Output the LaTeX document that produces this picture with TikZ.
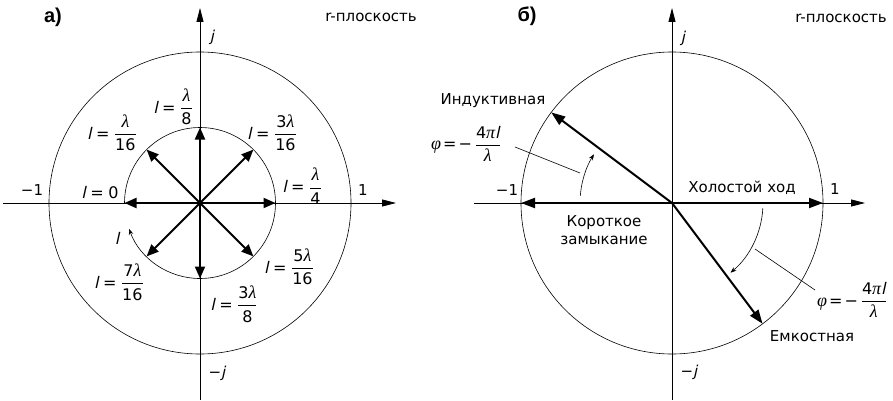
\documentclass[tikz,border=0pt]{standalone}
\usepackage{amsmath}
\usepackage{fontspec}
\usetikzlibrary{arrows.meta}
\setmainfont{DejaVu Sans}[ItalicFont={DejaVu Sans},ItalicFeatures={FakeSlant=0.22}]
\newfontfamily\labfont{Liberation Sans}
\newfontfamily\grk{Liberation Serif}
\newcommand{\Ll}{\mbox{\itshape l}}
\newcommand{\Nm}[1]{\mbox{#1}}
\newcommand{\G}[1]{\mbox{\fontsize{18}{18}\grk\itshape #1}}
\newcommand{\Eq}{\mbox{\hspace{4.5pt}=\hspace{4.5pt}}}
\newcommand{\Eqt}{\mbox{\hspace{2pt}=\hspace{2pt}}}
\begin{document}
\begin{tikzpicture}[x=1pt,y=1pt,
  every node/.style={inner sep=0pt,font=\fontsize{15}{18}\selectfont},
  axis/.style={line width=0.8pt,-{Triangle[length=14pt,width=7pt]}},
  plainaxis/.style={line width=0.8pt},
  circ/.style={line width=0.6pt},
  vec/.style={line width=2pt,-{Triangle[length=12pt,width=10pt]}},
  bigvec/.style={line width=2pt,-{Triangle[length=14pt,width=10pt]}},
  phiarc/.style={line width=0.6pt,-{Stealth[length=6pt,width=4.5pt]}},
  leader/.style={line width=0.6pt},
  mathlbl/.style={font=\fontsize{16}{18}\selectfont},
  panel/.style={font=\fontsize{20}{22}\selectfont\labfont\bfseries}]
\useasboundingbox (0,0) rectangle (893,400);
% ---------------- left panel ----------------
\coordinate (c1) at (200,197);
\coordinate (hl1) at (3,197);
\coordinate (hr1) at (396,197);
\coordinate (vb1) at (200,0);
\coordinate (vt1) at (200,392);
\draw[plainaxis] (c1) -- (hl1);
\draw[axis] (c1) -- (hr1);
\draw[plainaxis] (c1) -- (vb1);
\draw[axis] (c1) -- (vt1);
\draw[circ] (c1) circle[radius=151pt];
\draw[circ,-{Stealth[length=6pt,width=4.5pt]}] (c1) ++(180:75.5pt) arc[start angle=180,end angle=-160,radius=75.5pt];
\foreach \a/\n in {0/q0,45/q1,90/q2,135/q3,180/q4,225/q5,270/q6,315/q7}{
  \path (c1) ++(\a:75.5pt) coordinate (\n);
  \draw[vec] (c1) -- (\n);
}
\node[panel] (la) at (53,383) {a)};
\node (lr) at (371,383) {r-плоскость};
\node (lj) at (212,363) {\itshape j};
\node (lmj) at (217,27) {−\itshape j};
\node (lm1) at (32,210) {−1};
\node (lp1) at (363,210) {1};
\node[mathlbl] (l0) at (100,207) {$\Ll\Eq\Nm{0}$};
\node[mathlbl] (l1) at (112,267) {$\Ll\Eq\dfrac{\G{λ}}{\Nm{16}}$};
\node[mathlbl] (l2) at (173,293) {$\Ll\Eq\dfrac{\G{λ}}{\Nm{8}}$};
\node[mathlbl] (l3) at (272,267) {$\Ll\Eq\dfrac{\Nm{3}\G{λ}}{\Nm{16}}$};
\node[mathlbl] (l4) at (302,214) {$\Ll\Eq\dfrac{\G{λ}}{\Nm{4}}$};
\node[mathlbl] (l5) at (289,133) {$\Ll\Eq\dfrac{\Nm{5}\G{λ}}{\Nm{16}}$};
\node[mathlbl] (l6) at (234,96) {$\Ll\Eq\dfrac{\Nm{3}\G{λ}}{\Nm{8}}$};
\node[mathlbl] (l7) at (119,118) {$\Ll\Eq\dfrac{\Nm{7}\G{λ}}{\Nm{16}}$};
\node[mathlbl] (ll) at (117,162) {\itshape l};
% ---------------- right panel ----------------
\coordinate (c2) at (672,197);
\coordinate (hl2) at (474,197);
\coordinate (hr2) at (865,197);
\coordinate (vb2) at (672,0);
\coordinate (vt2) at (672,392);
\draw[plainaxis] (c2) -- (hl2);
\draw[axis] (c2) -- (hr2);
\draw[plainaxis] (c2) -- (vb2);
\draw[axis] (c2) -- (vt2);
\draw[circ] (c2) circle[radius=151pt];
\path (c2) ++(180:151pt) coordinate (sc);
\path (c2) ++(0:151pt) coordinate (oc);
\path (c2) ++(143.13:151pt) coordinate (ind);
\path (c2) ++(-53.13:151pt) coordinate (cap);
\draw[bigvec] (c2) -- (sc);
\draw[bigvec] (c2) -- (oc);
\draw[bigvec] (c2) -- (ind);
\draw[bigvec] (c2) -- (cap);
\draw[phiarc] (c2) ++(175.6:92pt) arc[start angle=175.6,end angle=148,radius=92pt];
\draw[phiarc] (c2) ++(-3.3:91pt) arc[start angle=-3.3,end angle=-50,radius=91pt];
\node[panel] (lb) at (527,384) {б)};
\node (rr) at (841,382) {r-плоскость};
\node (rj) at (683,362) {\itshape j};
\node (rmj) at (689,28) {−\itshape j};
\node (rm1) at (507,210) {−1};
\node (rp1) at (835,211) {1};
\node (tind) at (493,299) {Индуктивная};
\node (tcap) at (812,64) {Емкостная};
\node (topen) at (742,212) {Холостой ход};
\node[align=center] (tshort) at (604,170) {Короткое\\замыкание};
\node[mathlbl] (phi1) at (466,256) {$\G{φ}\Eqt\Nm{−}\,\dfrac{\Nm{4}\G{π}\Ll}{\G{λ}}$};
\node[mathlbl] (phi2) at (852,100) {$\G{φ}\Eqt\Nm{−}\,\dfrac{\Nm{4}\G{π}\Ll}{\G{λ}}$};
\coordinate (a1) at (515,253);
\coordinate (a2) at (580,227);
\coordinate (b1) at (755,151);
\coordinate (b2) at (815,110);
\draw[leader] (a1) -- (a2);
\draw[leader] (b1) -- (b2);
\end{tikzpicture}
\end{document}
